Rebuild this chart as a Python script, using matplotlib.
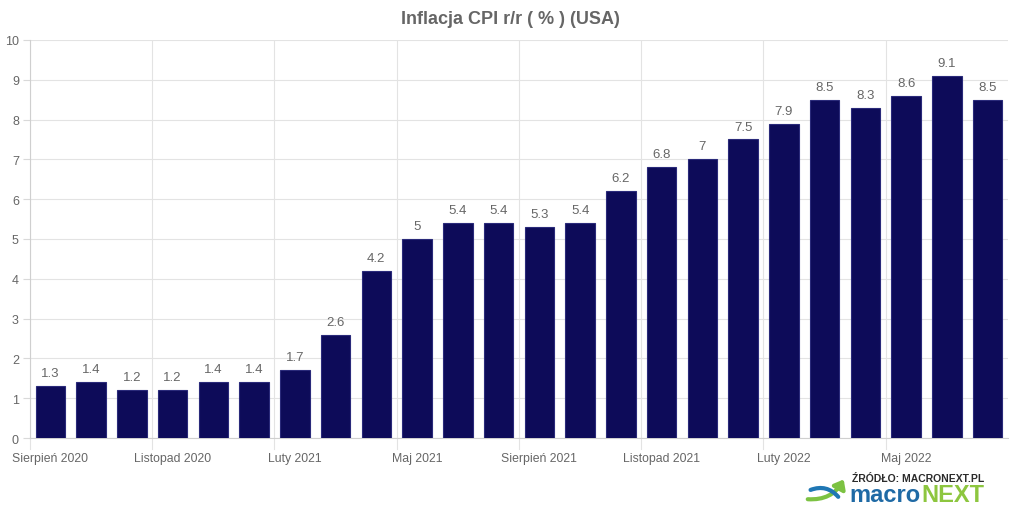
import matplotlib
matplotlib.use("Agg")
import matplotlib.pyplot as plt
from matplotlib.ticker import MultipleLocator

plt.rcParams['font.family'] = ['Liberation Sans', 'DejaVu Sans']

months = ["Sierpień 2020", "Wrzesień 2020", "Październik 2020", "Listopad 2020",
          "Grudzień 2020", "Styczeń 2021", "Luty 2021", "Marzec 2021", "Kwiecień 2021",
          "Maj 2021", "Czerwiec 2021", "Lipiec 2021", "Sierpień 2021", "Wrzesień 2021",
          "Październik 2021", "Listopad 2021", "Grudzień 2021", "Styczeń 2022",
          "Luty 2022", "Marzec 2022", "Kwiecień 2022", "Maj 2022", "Czerwiec 2022",
          "Lipiec 2022"]
values = [1.3, 1.4, 1.2, 1.2, 1.4, 1.4, 1.7, 2.6, 4.2, 5.0, 5.4, 5.4, 5.3, 5.4,
          6.2, 6.8, 7.0, 7.5, 7.9, 8.5, 8.3, 8.6, 9.1, 8.5]
value_labels = ["1.3", "1.4", "1.2", "1.2", "1.4", "1.4", "1.7", "2.6", "4.2", "5",
                "5.4", "5.4", "5.3", "5.4", "6.2", "6.8", "7", "7.5", "7.9", "8.5",
                "8.3", "8.6", "9.1", "8.5"]
title = "Inflacja CPI r/r ( % ) (USA)"

fig = plt.figure(figsize=(10.2, 5.1), dpi=100)
ax = fig.add_axes([30/1020, 1-439/510, (1008-30)/1020, (439-41)/510])

x = list(range(len(values)))
ax.bar(x, values, width=0.72, color='#0d0b59', edgecolor='#2a2a7a',
       linewidth=0.8, zorder=3)

for xi, v, lab in zip(x, values, value_labels):
    ax.annotate(lab, (xi, v), xytext=(0, 5), textcoords='offset points',
                ha='center', va='bottom', fontsize=9.5, color='#666666')

ax.set_xlim(-0.5, len(values) - 0.5)
ax.set_ylim(0, 10)
ax.yaxis.set_major_locator(MultipleLocator(1))

tick_pos = x[::3]
ax.set_xticks(tick_pos)
ax.set_xticklabels([months[i] for i in tick_pos], fontsize=8.8, color='#666666')
ax.tick_params(axis='x', length=0, pad=10)
ax.tick_params(axis='y', length=5, color='#d9d9d9', labelsize=9,
               labelcolor='#666666', pad=3)

for yv in range(0, 11):
    ax.axhline(yv, color='#e3e3e3', linewidth=0.8, zorder=1)
for b in [i - 0.5 for i in tick_pos]:
    ax.axvline(b, color='#e3e3e3', linewidth=0.8, zorder=1)
    ax.plot([b, b], [0, -0.28], color='#e3e3e3', linewidth=0.8,
            clip_on=False, zorder=1)

for s in ['top', 'right']:
    ax.spines[s].set_visible(False)
ax.spines['left'].set_color('#cfcfcf')
ax.spines['bottom'].set_color('#cfcfcf')
ax.spines['left'].set_linewidth(0.8)
ax.spines['bottom'].set_linewidth(0.8)
ax.set_axisbelow(True)

fig.text(0.5, 1 - 20/510, title, ha='center', va='center', fontsize=13,
         fontweight='bold', color='#666666')

# logo
fig.text(852/1020, 1 - 479/510, "ŹRÓDŁO: MACRONEXT.PL", fontsize=7.5,
         fontweight='bold', color='#2b2b2b', ha='left', va='center')
t_macro = fig.text(849/1020, 1 - 496/510, "macro", fontsize=17, fontweight='bold',
                   color='#1f6aa5', ha='left', va='center')
renderer = fig.canvas.get_renderer()
bb = t_macro.get_window_extent(renderer=renderer)
fig.text((bb.x1 + 1) / 1020, 1 - 496/510, "NEXT", fontsize=17, fontweight='bold',
         color='#8dc63f', ha='left', va='center')
fig.patches.append(matplotlib.patches.FancyArrowPatch(
    (805/1020, 1 - 500/510), (845/1020, 1 - 478/510),
    transform=fig.transFigure, connectionstyle="arc3,rad=0.35",
    arrowstyle="-|>,head_length=5,head_width=4", color='#7cc242',
    linewidth=3, figure=fig))
fig.patches.append(matplotlib.patches.FancyArrowPatch(
    (808/1020, 1 - 492/510), (840/1020, 1 - 500/510),
    transform=fig.transFigure, connectionstyle="arc3,rad=-0.4",
    arrowstyle="-", color='#1f77b4', linewidth=3, figure=fig))

fig.savefig("out.png", dpi=100, facecolor='white')
